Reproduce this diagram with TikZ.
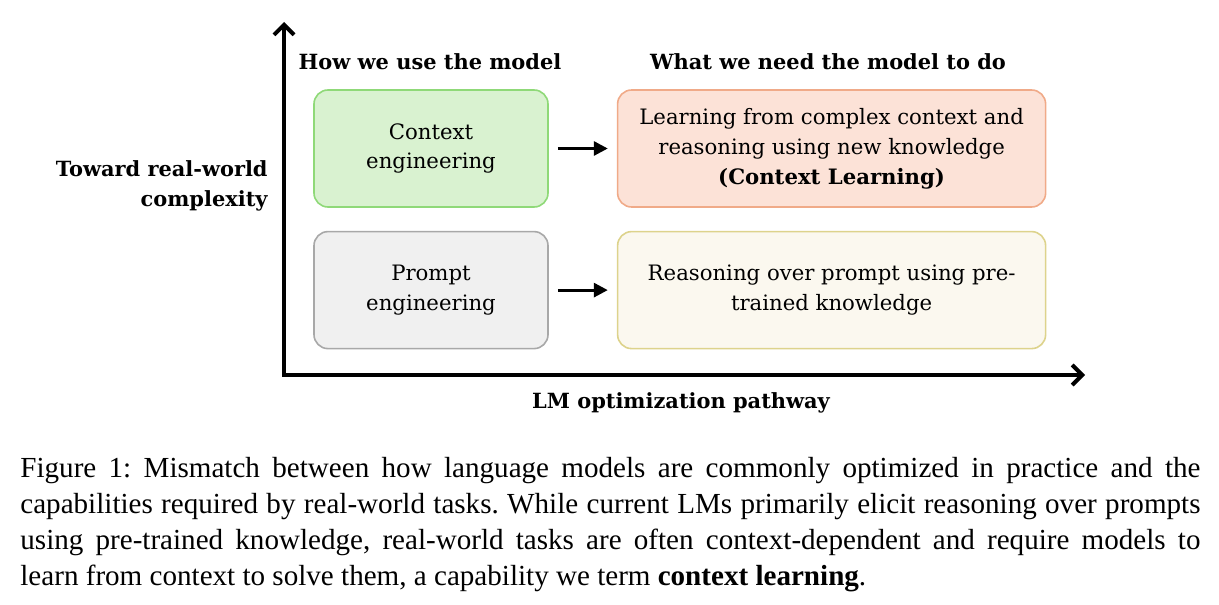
\documentclass[tikz,border=0pt]{standalone}
\usepackage{fontspec}
\setmainfont{Liberation Serif}
\newfontfamily\figfont{DejaVu Serif}
\usetikzlibrary{positioning,arrows.meta}

\definecolor{greenfill}{HTML}{D9F2D0}
\definecolor{greenline}{HTML}{8FD978}
\definecolor{peachfill}{HTML}{FCE2D7}
\definecolor{peachline}{HTML}{F0AA88}
\definecolor{grayfill}{HTML}{F0F0F0}
\definecolor{grayline}{HTML}{A8A8A8}
\definecolor{creamfill}{HTML}{FBF8EF}
\definecolor{creamline}{HTML}{DDD38C}

\begin{document}
\begin{tikzpicture}[x=0.5bp,y=-0.5bp,
    box/.style={rectangle,rounded corners=7bp,line width=0.8bp,align=center,
        font=\figfont\fontsize{10.65}{15}\selectfont,minimum height=58.5bp},
    usebox/.style={box,minimum width=117bp},
    needbox/.style={box,minimum width=214bp},
    head/.style={font=\figfont\bfseries\fontsize{10.5}{15}\selectfont,inner sep=0pt},
    axis/.style={line width=2bp,-{Straight Barb[length=5bp,width=10bp,line width=2bp]}},
    step arrow/.style={line width=1.5bp,-{Triangle[length=7bp,width=7bp]},shorten <=4.5bp,shorten >=4.5bp}]
    \useasboundingbox (0,0) rectangle (1219,605);

    % axes
    \coordinate (origin) at (284,375);
    \coordinate (ytip) at (284,22);
    \coordinate (xtip) at (1085,375);
    \draw[axis] (origin) -- (ytip);
    \draw[axis] ([xshift=-1bp]origin) -- (xtip);

    % boxes
    \node[usebox,draw=greenline,fill=greenfill] (ctxeng) at (431,148.5) {Context\\engineering};
    \node[needbox,draw=peachline,fill=peachfill] (ctxlearn) [right=34bp of ctxeng]
        {Learning from complex context and\\reasoning using new knowledge\\\textbf{(Context Learning)}};
    \node[usebox,draw=grayline,fill=grayfill] (prompteng) [below=11.5bp of ctxeng] {Prompt\\engineering};
    \node[needbox,draw=creamline,fill=creamfill] (reason) [right=34bp of prompteng]
        {Reasoning over prompt using pre-\\trained knowledge};

    \draw[step arrow] (ctxeng) -- (ctxlearn);
    \draw[step arrow] (prompteng) -- (reason);

    % headers and axis labels
    \node[head,anchor=base] (howhead) at (430,70) {How we use the model};
    \node[head,anchor=base] (whathead) at (828,70) {What we need the model to do};
    \node[head,anchor=east,align=right] (ylabel) at (268,186) {Toward real-world\\complexity};
    \node[head,anchor=base] (xlabel) at (681,408) {LM optimization pathway};

    % caption
    \node[anchor=north west,inner sep=0pt,text width=590bp,align=justify,
        font=\fontsize{14.6}{18}\selectfont\frenchspacing] (caption) at (20,457)
        {Figure 1: Mismatch between how language models are commonly optimized in practice and the\linebreak
        capabilities required by real-world tasks. While current LMs primarily elicit reasoning over prompts\linebreak
        using pre-trained knowledge, real-world tasks are often context-dependent and require models to\linebreak
        learn from context to solve them, a capability we term \textbf{context learning}.};
\end{tikzpicture}
\end{document}
